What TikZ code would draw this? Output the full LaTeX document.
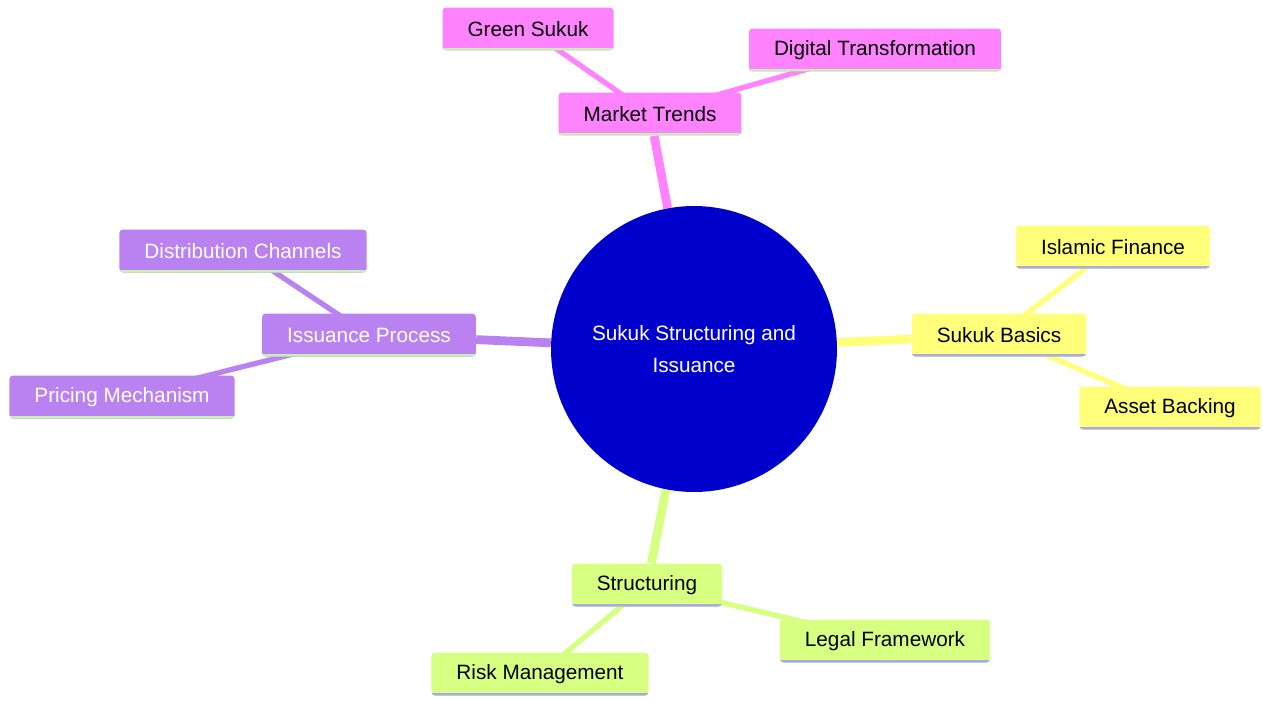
\documentclass[tikz,border=0pt]{standalone}
\usepackage{fontspec}
\setmainfont{Liberation Sans}
\usetikzlibrary{backgrounds}

\definecolor{trendpink}{RGB}{255,130,255}
\definecolor{basicyellow}{RGB}{255,255,122}
\definecolor{issuepurple}{RGB}{186,130,240}
\definecolor{structgreen}{RGB}{215,255,130}
\definecolor{rootblue}{RGB}{0,0,205}
\definecolor{lightgreenline}{RGB}{196,240,176}
\definecolor{lavenderline}{RGB}{170,170,230}

\begin{document}
\begin{tikzpicture}[
    x=0.02cm, y=-0.02cm,
    font=\fontsize{11.8}{18}\selectfont,
    topic/.style={rectangle, rounded corners=2pt, fill=#1, minimum height=0.86cm, inner xsep=0.5cm},
    underline/.style={path picture={\draw[line width=2.5pt, #1]
        (path picture bounding box.south west) -- (path picture bounding box.south east);}},
    trunk/.style={line width=5pt, #1},
    twig/.style={line width=3pt, #1}]

\useasboundingbox (0,0) rectangle (1263,700);

% centre
\node[circle, fill=rootblue, minimum size=5.72cm, text=white, align=center] (root) at (694,349)
    {Sukuk Structuring and\\Issuance};

% market trends
\node[topic=trendpink, underline=lightgreenline] (trends) at (650,114) {Market Trends};
\node[topic=trendpink, underline=lightgreenline] (green) at (528,29) {Green Sukuk};
\node[topic=trendpink, underline=lightgreenline] (digital) at (875,50) {Digital Transformation};

% sukuk basics
\node[topic=basicyellow, underline=lavenderline] (basics) at (999,335) {Sukuk Basics};
\node[topic=basicyellow, underline=lavenderline] (islamic) at (1113,247) {Islamic Finance};
\node[topic=basicyellow, underline=lavenderline] (asset) at (1170,408) {Asset Backing};

% issuance process
\node[topic=issuepurple, underline=lightgreenline, text=white] (issuance) at (369,335) {Issuance Process};
\node[topic=issuepurple, underline=lightgreenline, text=white] (distrib) at (243,251) {Distribution Channels};
\node[topic=issuepurple, underline=lightgreenline, text=white] (pricing) at (122,397) {Pricing Mechanism};

% structuring
\node[topic=structgreen, underline=lavenderline] (struct) at (647,585) {Structuring};
\node[topic=structgreen, underline=lavenderline] (legal) at (885,641) {Legal Framework};
\node[topic=structgreen, underline=lavenderline] (risk) at (540,674) {Risk Management};

\begin{scope}[on background layer]
\draw[trunk=trendpink] (root) -- (trends);
\draw[trunk=basicyellow] (root) -- (basics);
\draw[trunk=issuepurple] (root) -- (issuance);
\draw[trunk=structgreen] (root) -- (struct);
\draw[twig=trendpink] (trends.center) -- (green.center);
\draw[twig=trendpink] (trends.center) -- (digital.center);
\draw[twig=basicyellow] (basics.center) -- (islamic.center);
\draw[twig=basicyellow] (basics.center) -- (asset.center);
\draw[twig=issuepurple] (issuance.center) -- (distrib.center);
\draw[twig=issuepurple] (issuance.center) -- (pricing.center);
\draw[twig=structgreen] (struct.center) -- (legal.center);
\draw[twig=structgreen] (struct.center) -- (risk.center);
\end{scope}
\end{tikzpicture}
\end{document}
